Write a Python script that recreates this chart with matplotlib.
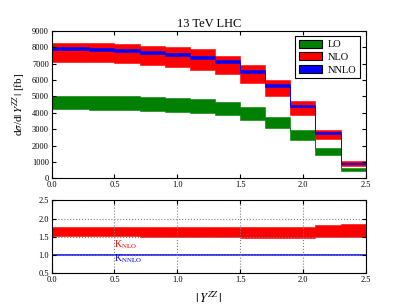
import numpy as np
import matplotlib
matplotlib.use("Agg")
import matplotlib.pyplot as plt
from matplotlib.patches import Patch

plt.rcParams['font.family'] = ['Liberation Serif', 'DejaVu Serif']
plt.rcParams['mathtext.fontset'] = 'stix'

# |Y^ZZ| bin edges
edges = [0.0, 0.3, 0.5, 0.7, 0.9, 1.1, 1.3, 1.5, 1.7, 1.9, 2.1, 2.3, 2.5]

# d sigma / d|Y| [fb], bands
lo_low = [4200, 4180, 4160, 4100, 4040, 3960, 3840, 3550, 3050, 2330, 1420, 460]
lo_high = [5040, 5040, 5020, 4980, 4920, 4860, 4630, 4330, 3760, 2940, 1830, 650]
nlo_low = [7110, 7070, 7010, 6890, 6780, 6620, 6360, 5790, 5020, 3880, 2400, 770]
nlo_high = [8230, 8230, 8170, 8060, 8000, 7920, 7455, 6890, 5990, 4710, 2940, 1030]
nnlo_mid = [7920, 7860, 7780, 7680, 7580, 7400, 7110, 6540, 5670, 4410, 2780, 890]
nnlo_half = [90, 90, 90, 90, 90, 90, 90, 85, 80, 75, 65, 45]

# K factors
k_nlo_low = [1.51, 1.51, 1.51, 1.50, 1.50, 1.49, 1.49, 1.48, 1.47, 1.46, 1.49, 1.49]
k_nlo_high = [1.78, 1.78, 1.77, 1.77, 1.77, 1.76, 1.76, 1.76, 1.76, 1.78, 1.82, 1.85]
k_nnlo_low = [1.005, 1.005, 1.005, 1.005, 1.005, 1.005, 1.005, 1.005, 1.01, 1.01, 1.015, 1.015]
k_nnlo_high = [1.025, 1.025, 1.025, 1.025, 1.025, 1.025, 1.025, 1.025, 1.03, 1.03, 1.04, 1.04]


def step(vals):
    return list(vals) + [vals[-1]]


fig = plt.figure(figsize=(4.07, 3.05), dpi=100)
ax = fig.add_axes([0.127, 0.4154, 0.7715, 0.4836])
ax2 = fig.add_axes([0.127, 0.1039, 0.7715, 0.2394])

nnlo_low = [m - h for m, h in zip(nnlo_mid, nnlo_half)]
nnlo_high = [m + h for m, h in zip(nnlo_mid, nnlo_half)]

ax.fill_between(edges, step(lo_low), step(lo_high), step='post', color='green', lw=0.4)
ax.fill_between(edges, step(nlo_low), step(nlo_high), step='post', color='red', lw=0.4)
ax.fill_between(edges, step(nnlo_low), step(nnlo_high), step='post', color='blue', lw=0.4)

ax.set_xlim(0, 2.5)
ax.set_ylim(0, 9000)
ax.set_xticks(np.arange(0, 2.51, 0.5))
ax.set_yticks(np.arange(0, 9001, 1000))
ax.tick_params(direction='in', top=True, right=True, labelsize=6, length=3, pad=2)
ax.set_title('13 TeV LHC', fontsize=9, pad=3)
ax.set_ylabel(r'd$\sigma$/d$|\,Y^{Z\!Z}\,|$ [fb]', fontsize=8, labelpad=3)

handles = [Patch(facecolor='green', edgecolor='black', lw=0.8),
           Patch(facecolor='red', edgecolor='black', lw=0.8),
           Patch(facecolor='blue', edgecolor='black', lw=0.8)]
leg = ax.legend(handles, ['LO', 'NLO', 'NNLO'], loc='upper right', fontsize=7.5,
                fancybox=False, edgecolor='black', framealpha=1,
                handlelength=2.2, handleheight=0.8, handletextpad=0.6,
                borderpad=0.35, labelspacing=0.3, borderaxespad=0.5)
leg.get_frame().set_linewidth(0.8)

ax2.fill_between(edges, step(k_nlo_low), step(k_nlo_high), step='post', color='red', lw=0.4)
ax2.fill_between(edges, step(k_nnlo_low), step(k_nnlo_high), step='post', color='blue', lw=0.4)
ax2.set_xlim(0, 2.5)
ax2.set_ylim(0.5, 2.5)
ax2.set_xticks(np.arange(0, 2.51, 0.5))
ax2.set_yticks(np.arange(0.5, 2.51, 0.5))
ax2.grid(True, ls=':', color='0.5', lw=0.8)
ax2.tick_params(direction='in', top=True, right=True, labelsize=6, length=3, pad=2)
ax2.text(0.5, 1.2, r'K$_{\mathrm{NLO}}$', color='red', fontsize=7)
ax2.text(0.5, 0.83, r'K$_{\mathrm{NNLO}}$', color='blue', fontsize=7)
ax2.set_xlabel(r'$|\,Y^{Z\!Z}\,|$', fontsize=9, labelpad=5)

fig.savefig('out.png', dpi=100)
